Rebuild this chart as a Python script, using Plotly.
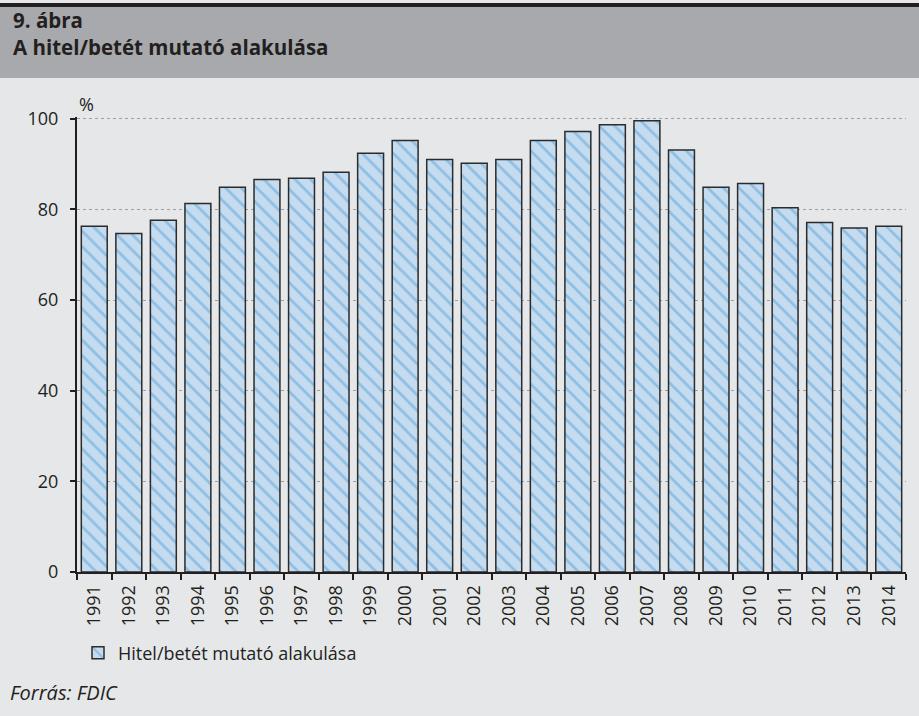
import plotly.graph_objects as go

years = [str(y) for y in range(1991, 2015)]
ratio = [76.3, 74.7, 77.6, 81.3, 84.9, 86.6, 86.9, 88.2, 92.4, 95.2, 91.0, 90.2,
         91.0, 95.2, 97.2, 98.7, 99.6, 93.1, 84.9, 85.7, 80.4, 77.1, 75.9, 76.3]
series_name = "Hitel/betét mutató alakulása"
title_line1 = "9. ábra"
title_line2 = "A hitel/betét mutató alakulása"
source_text = "Forrás: FDIC"
y_ticks = [0, 20, 40, 60, 80, 100]

FONT = "Open Sans"
TXT = "#231f20"
BODY = "#e6e7e8"
HEAD = "#a7a9ac"

W, H = 919, 716
YMAX = 100.4
L, R, B = 77, 13, 144
T = 119 - round(0.4 * 4.53)
pw, ph = W - L - R, H - T - B

def px(x):
    return (x - L) / pw

def py(y):
    return (H - B - y) / ph

fig = go.Figure()
fig.add_trace(go.Bar(
    x=years, y=ratio, name=series_name,
    marker=dict(
        color="#c5dcf0",
        line=dict(color="#2b2b2b", width=1.5),
        pattern=dict(shape="\\", fgcolor="#5a9fd4", bgcolor="#c5dcf0",
                     size=11, solidity=0.25, fillmode="overlay"),
    ),
    showlegend=True,
))

fig.update_layout(
    width=W, height=H,
    margin=dict(l=L, r=R, t=T, b=B, pad=0),
    paper_bgcolor=BODY, plot_bgcolor=BODY,
    font=dict(family=FONT, color=TXT, size=18),
    bargap=0.25,
    xaxis=dict(
        type="category", tickangle=-90, showgrid=False,
        showline=True, linecolor="#231f20", linewidth=2,
        ticks="outside", ticklen=6, tickwidth=2, tickcolor="#231f20",
        tickson="boundaries", tickfont=dict(size=18, family=FONT, color=TXT),
        ticklabelstandoff=4,
        zeroline=False,
    ),
    yaxis=dict(
        range=[0, YMAX], tickvals=y_ticks, showgrid=True,
        gridcolor="#9d9fa2", griddash="dot", gridwidth=1.3,
        showline=True, linecolor="#231f20", linewidth=2,
        ticks="outside", ticklen=5, tickwidth=2, tickcolor="#231f20",
        tickfont=dict(size=18, family=FONT, color=TXT), ticklabelstandoff=8,
        zeroline=False,
    ),
    legend=dict(
        x=px(78), y=py(653), xanchor="left", yanchor="middle",
        bgcolor="rgba(0,0,0,0)", font=dict(size=18, family=FONT, color=TXT),
        orientation="h",
    ),
    shapes=[
        dict(type="rect", xref="paper", yref="paper",
             x0=px(-2), x1=px(W + 2), y0=py(78), y1=py(6),
             fillcolor=HEAD, line=dict(width=0), layer="below"),
        dict(type="rect", xref="paper", yref="paper",
             x0=px(-2), x1=px(W + 2), y0=py(7), y1=py(3),
             fillcolor="#231f20", line=dict(width=0), layer="below"),
    ],
    annotations=[
        dict(text="<b>" + title_line1 + "</b><br><b>" + title_line2 + "</b>",
             xref="paper", yref="paper", align="left",
             x=px(11), y=py(33), xanchor="left", yanchor="middle",
             showarrow=False, font=dict(size=20.5, family=FONT, color=TXT)),
        dict(text="%", xref="paper", yref="paper",
             x=px(77), y=py(104), xanchor="left", yanchor="middle",
             showarrow=False, font=dict(size=18, family=FONT, color=TXT)),
        dict(text="<i>" + source_text + "</i>", xref="paper", yref="paper",
             x=px(8), y=py(692), xanchor="left", yanchor="middle",
             showarrow=False, font=dict(size=20, family=FONT, color=TXT)),
    ],
)

fig.write_html("out.html", config={"displayModeBar": False},
               post_script="document.body.style.margin='0';document.body.style.overflow='hidden';")
